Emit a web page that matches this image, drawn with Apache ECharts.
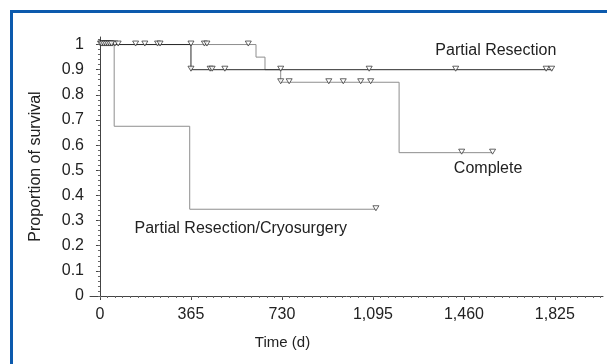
<!DOCTYPE html>
<html>
<head>
<meta charset="utf-8">
<script src="https://cdn.jsdelivr.net/npm/echarts@6/dist/echarts.min.js"></script>
<style>
  html, body { margin: 0; padding: 0; background: #fff; overflow: hidden; }
  #frame { position: absolute; left: 10px; top: 10px; width: 800px; height: 600px;
           border: 3px solid #0c5aad; box-sizing: border-box; }
  #chart { position: absolute; left: 0; top: 0; width: 607px; height: 364px; }
</style>
</head>
<body>
<div id="frame"></div>
<div id="chart"></div>
<script>
// Kaplan-Meier step curves: [days, proportion surviving]
var cryoCurve = [[0, 1], [57, 0.675], [360, 0.345], [1107, 0.345]];
var partialCurve = [[0, 1], [365, 0.9], [1817, 0.9]];
var completeCurve = [[0, 1], [626, 0.95], [662, 0.9], [725, 0.85], [1200, 0.57], [1575, 0.57]];

// censored observations (triangles)
var cryoCensor = [[2, 1], [10, 1], [18, 1], [26, 1], [34, 1], [42, 1], [50, 1], [1107, 0.345]];
var partialCensor = [[6, 1], [14, 1], [22, 1], [30, 1], [38, 1], [46, 1],
  [365, 0.9], [442, 0.9], [450, 0.9], [501, 0.9], [1080, 0.9], [1427, 0.9], [1790, 0.9], [1812, 0.9]];
var completeCensor = [[60, 1], [73, 1], [143, 1], [180, 1], [231, 1], [241, 1], [365, 1], [419, 1], [429, 1], [595, 1],
  [725, 0.9], [725, 0.85], [759, 0.85], [918, 0.85], [976, 0.85], [1046, 0.85], [1086, 0.85],
  [1451, 0.57], [1575, 0.57]];

var xTicks = [0, 365, 730, 1095, 1460, 1825];
var yTicks = [0, 0.1, 0.2, 0.3, 0.4, 0.5, 0.6, 0.7, 0.8, 0.9, 1];

// minor ticks: monthly on x, every 0.02 on y
var xMinor = [];
for (var i = 0; i * 365 / 12 < 2018; i++) xMinor.push(i * 365 / 12);
var yMinor = [];
for (var j = 0; j <= 51; j++) yMinor.push(j / 50);

var FONT = "'Liberation Sans', Arial, sans-serif";
var DARK = '#2a2a2a';
var GRAY = '#8e8e8e';

function line(name, data, color) {
  return {
    name: name, type: 'line', step: 'end', data: data, showSymbol: false,
    lineStyle: { color: color, width: 1 }, animation: false, silent: true
  };
}
function censor(data) {
  return {
    type: 'scatter', data: data, symbol: 'triangle', symbolRotate: 180,
    symbolSize: [6, 5], symbolOffset: [0, -1],
    itemStyle: { color: '#fff', borderColor: DARK, borderWidth: 0.9 },
    z: 5, animation: false, silent: true
  };
}
function note(text, coord) {
  return {
    type: 'scatter', data: [], silent: true,
    markPoint: {
      symbol: 'circle', symbolSize: 0, animation: false,
      label: { show: true, position: 'inside', formatter: text, color: '#222', fontSize: 16, fontFamily: FONT },
      data: [{ coord: coord }]
    }
  };
}

var chart = echarts.init(document.getElementById('chart'));
chart.setOption({
  backgroundColor: 'transparent',
  animation: false,
  grid: { left: 90, right: 4, top: 37, bottom: 68 },
  xAxis: [{
    type: 'value', min: -40, max: 2018,
    name: 'Time (d)', nameLocation: 'middle', nameGap: 39,
    nameTextStyle: { color: '#222', fontSize: 15, fontFamily: FONT, padding: [0, 128, 0, 0] },
    axisLine: { show: true, lineStyle: { color: '#444', width: 1 } },
    axisTick: { show: true, length: 4, customValues: xTicks, lineStyle: { color: '#444' } },
    axisLabel: { customValues: xTicks, margin: 11, color: '#222', fontSize: 16, fontFamily: FONT,
      formatter: function (v) { return v.toLocaleString('en-US'); } },
    splitLine: { show: false }
  }, {
    type: 'value', min: -40, max: 2018, position: 'bottom',
    axisLine: { show: false },
    axisTick: { show: true, length: 2, customValues: xMinor, lineStyle: { color: '#666' } },
    axisLabel: { show: false }, splitLine: { show: false }
  }],
  yAxis: [{
    type: 'value', min: 0, max: 1.03,
    name: 'Proportion of survival', nameLocation: 'middle', nameGap: 46,
    nameTextStyle: { color: '#222', fontSize: 16, fontFamily: FONT },
    axisLine: { show: true, lineStyle: { color: '#444', width: 1 } },
    axisTick: { show: true, length: 4, customValues: yTicks, lineStyle: { color: '#444' } },
    axisLabel: { customValues: yTicks, margin: 6, color: '#222', fontSize: 16, fontFamily: FONT },
    splitLine: { show: false }
  }, {
    type: 'value', min: 0, max: 1.03, position: 'left',
    axisLine: { show: false },
    axisTick: { show: true, length: 2, customValues: yMinor, lineStyle: { color: '#666' } },
    axisLabel: { show: false }, splitLine: { show: false }
  }],
  series: [
    line('Partial Resection/Cryosurgery', cryoCurve, GRAY),
    line('Complete', completeCurve, GRAY),
    line('Partial Resection', partialCurve, DARK),
    censor(cryoCensor),
    censor(completeCensor),
    censor(partialCensor),
    note('Partial Resection', [1588, 0.976]),
    note('Complete', [1557, 0.506]),
    note('Partial Resection/Cryosurgery', [565, 0.267])
  ]
});
</script>
</body>
</html>
